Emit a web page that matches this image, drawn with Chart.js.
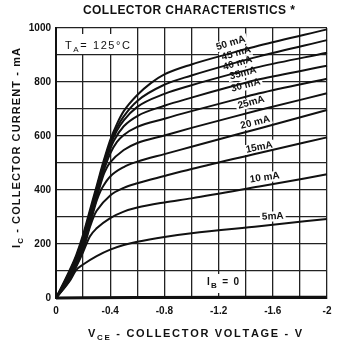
<!DOCTYPE html>
<html><head><meta charset="utf-8">
<script src="https://cdn.jsdelivr.net/npm/chart.js@4"></script>
<style>html,body{margin:0;padding:0;background:#fff;}#wrap{width:339px;height:346px;position:relative}</style>
</head><body><div id="wrap"><canvas id="c" width="339" height="346"></canvas></div>
<script>
// Collector voltage V_CE (V) vs collector current I_C (mA), one array per base current
const ib0  = [[0,0],[-0.6,2],[-2,3]];
const ib5  = [[0,0],[-0.05,30],[-0.1,62],[-0.15,104],[-0.2,124],[-0.3,155],[-0.4,179],[-0.5,196],[-0.6,208],[-0.8,226],[-1.0,240],[-1.5,266],[-2,293]];
const ib10 = [[0,0],[-0.05,32],[-0.1,66],[-0.15,116],[-0.2,170],[-0.25,228],[-0.3,258],[-0.4,296],[-0.5,320],[-0.6,335],[-0.8,354],[-1.0,369],[-1.5,413],[-2,458]];
const ib15 = [[0,0],[-0.05,34],[-0.1,71],[-0.15,122],[-0.2,178],[-0.25,262],[-0.28,303],[-0.3,323],[-0.4,380],[-0.5,408],[-0.6,425],[-0.8,452],[-1.0,478],[-1.5,537],[-2,595]];
const ib20 = [[0,0],[-0.05,36],[-0.1,75],[-0.15,127],[-0.2,186],[-0.25,272],[-0.3,360],[-0.33,398],[-0.35,416],[-0.4,450],[-0.5,485],[-0.6,505],[-0.8,533],[-1.0,560],[-1.5,628],[-2,696]];
const ib25 = [[0,0],[-0.05,38],[-0.1,80],[-0.15,132],[-0.2,194],[-0.25,281],[-0.3,370],[-0.35,455],[-0.37,478],[-0.4,502],[-0.5,548],[-0.6,574],[-0.8,602],[-1.0,630],[-1.3,670],[-1.5,696],[-2,758]];
const ib30 = [[0,0],[-0.05,41],[-0.1,84],[-0.15,138],[-0.2,202],[-0.25,290],[-0.3,380],[-0.35,468],[-0.4,535],[-0.45,578],[-0.5,604],[-0.6,634],[-0.8,664],[-1.0,692],[-1.3,732],[-1.5,758],[-2,812]];
const ib35 = [[0,0],[-0.05,43],[-0.1,88],[-0.15,143],[-0.2,210],[-0.25,299],[-0.3,390],[-0.35,480],[-0.4,552],[-0.43,585],[-0.5,636],[-0.6,674],[-0.8,712],[-1.0,742],[-1.3,784],[-1.5,810],[-2,860]];
const ib40 = [[0,0],[-0.05,45],[-0.1,93],[-0.15,149],[-0.2,218],[-0.25,308],[-0.3,398],[-0.35,490],[-0.4,565],[-0.45,620],[-0.5,658],[-0.6,708],[-0.8,756],[-1.0,788],[-1.3,830],[-1.5,856],[-2,908]];
const ib45 = [[0,0],[-0.05,47],[-0.1,97],[-0.15,154],[-0.2,226],[-0.25,317],[-0.3,406],[-0.35,498],[-0.4,575],[-0.45,632],[-0.5,673],[-0.6,730],[-0.8,790],[-1.0,824],[-1.3,868],[-1.5,895],[-2,955]];
const ib50 = [[0,0],[-0.05,50],[-0.1,102],[-0.15,160],[-0.2,235],[-0.25,325],[-0.3,415],[-0.35,505],[-0.4,585],[-0.45,645],[-0.5,692],[-0.6,752],[-0.7,796],[-0.8,828],[-1.0,865],[-1.3,908],[-1.5,935],[-2,995]];

const seriesNames = ['IB = 0','5 mA','10 mA','15 mA','20 mA','25 mA','30 mA','35 mA','40 mA','45 mA','50 mA'];
const seriesData  = [ib0, ib5, ib10, ib15, ib20, ib25, ib30, ib35, ib40, ib45, ib50];

// curve label anchors (V, mA) and text
const curveLabelText = ['5mA','10 mA','15mA','20 mA','25mA','30 mA','35mA','40 mA','45 mA','50 mA'];
const curveLabelV    = [-1.60,-1.54,-1.50,-1.47,-1.44,-1.40,-1.38,-1.34,-1.33,-1.29];
const curveLabelI    = [302, 446, 558, 650, 724, 788, 832, 869, 906, 944];
const curveLabelRot  = [-3, -8, -11, -14, -15, -15, -15, -16, -16, -17];

const xTickValues = [0,-0.4,-0.8,-1.2,-1.6,-2];
const yTickValues = [0,200,400,600,800,1000];

const INK = '#111';
const LBL_FONT = 'bold 10px "Liberation Sans Narrow", "Liberation Sans", sans-serif';

function drawRich(ctx, segs, x, y, o) {
  const chars = [];
  segs.forEach(s => { for (const ch of s.t) chars.push({ch, sub: !!s.sub}); });
  const ws = chars.map(c => { ctx.font = c.sub ? o.sub : o.font; return ctx.measureText(c.ch).width; });
  const nat = ws.reduce((a,b)=>a+b,0);
  const extra = o.width ? (o.width - nat) / (chars.length - 1) : 0;
  const total = nat + extra * (chars.length - 1);
  let cx = o.align === 'left' ? x : x - total / 2;
  ctx.textBaseline = 'middle';
  ctx.textAlign = 'left';
  chars.forEach((c,i) => {
    ctx.font = c.sub ? o.sub : o.font;
    ctx.fillText(c.ch, cx, c.sub ? y + (o.subDy || 3) : y);
    cx += ws[i] + extra;
  });
  return total;
}

const decor = {
  id: 'decor',
  beforeDatasetsDraw(chart) {
    const ctx = chart.ctx, xs = chart.scales.x, ys = chart.scales.y;
    ctx.save();
    ctx.fillStyle = '#fff';
    ctx.fillRect(58, 34, 78, 20);
    ctx.fillRect(202, 274, 42, 19);
    ctx.font = LBL_FONT;
    curveLabelText.forEach((t,i) => {
      const px = xs.getPixelForValue(curveLabelV[i]), py = ys.getPixelForValue(curveLabelI[i]);
      const w = ctx.measureText(t).width + 4;
      ctx.save(); ctx.translate(px, py); ctx.rotate(curveLabelRot[i]*Math.PI/180);
      ctx.fillRect(-w/2, -5, w, 10);
      ctx.restore();
    });
    ctx.restore();
  },
  afterDatasetsDraw(chart) {
    const ctx = chart.ctx, xs = chart.scales.x, ys = chart.scales.y;
    ctx.save();
    ctx.fillStyle = INK;
    ctx.font = LBL_FONT;
    ctx.textAlign = 'center'; ctx.textBaseline = 'middle';
    curveLabelText.forEach((t,i) => {
      const px = xs.getPixelForValue(curveLabelV[i]), py = ys.getPixelForValue(curveLabelI[i]);
      ctx.save(); ctx.translate(px, py); ctx.rotate(curveLabelRot[i]*Math.PI/180);
      ctx.fillText(t, 0, 0);
      ctx.restore();
    });
    drawRich(ctx, [{t:'T'},{t:'A',sub:true},{t:'= 125°C'}], 65, 46,
      {font:'11px "Liberation Sans", sans-serif', sub:'8px "Liberation Sans", sans-serif', align:'left', width:65, subDy:4});
    drawRich(ctx, [{t:'I'},{t:'B',sub:true},{t:' = 0'}], 207, 282,
      {font:'bold 10px "Liberation Sans", sans-serif', sub:'bold 8px "Liberation Sans", sans-serif', align:'left', width:32, subDy:4});
    ctx.restore();
  },
  afterDraw(chart) {
    const ctx = chart.ctx;
    ctx.save();
    ctx.fillStyle = INK;
    drawRich(ctx, [{t:'COLLECTOR CHARACTERISTICS *'}], 189, 11,
      {font:'bold 12px "Liberation Sans", sans-serif', width:212});
    drawRich(ctx, [{t:'V'},{t:'CE',sub:true},{t:' - COLLECTOR VOLTAGE - V'}], 195, 334,
      {font:'bold 11px "Liberation Sans", sans-serif', sub:'bold 8px "Liberation Sans", sans-serif', width:214, subDy:4});
    ctx.translate(17, 148); ctx.rotate(-Math.PI/2);
    drawRich(ctx, [{t:'I'},{t:'C',sub:true},{t:' - COLLECTOR CURRENT - mA'}], 0, 0,
      {font:'bold 11px "Liberation Sans", sans-serif', sub:'bold 8px "Liberation Sans", sans-serif', width:200, subDy:4});
    ctx.restore();
  }
};

const datasets = seriesData.map((d,i) => ({
  label: seriesNames[i],
  data: d.map(p => ({x:p[0], y:p[1]})),
  borderColor: INK,
  borderWidth: i === 0 ? 3 : 2,
  pointRadius: 0,
  fill: false,
  cubicInterpolationMode: 'monotone',
  clip: 2
}));

new Chart(document.getElementById('c'), {
  type: 'line',
  data: { datasets },
  options: {
    responsive: false,
    animation: false,
    events: [],
    layout: { padding: { top: 28, right: 12, left: 0, bottom: 0 } },
    plugins: { legend: { display: false }, tooltip: { enabled: false } },
    scales: {
      x: {
        type: 'linear', min: -2, max: 0, reverse: true,
        afterFit: s => { s.height = 48; },
        grid: { color: '#222', lineWidth: 1.3, drawTicks: false },
        border: { color: INK, width: 2 },
        ticks: {
          stepSize: 0.2, padding: 7, color: INK, maxRotation: 0, autoSkip: false,
          font: { family: '"Liberation Sans", sans-serif', size: 10, weight: 'bold' },
          callback: v => {
            const hit = xTickValues.find(t => Math.abs(t - v) < 1e-6);
            if (hit === undefined) return '';
            return hit === 0 ? '0' : (Number.isInteger(hit) ? String(hit) : hit.toFixed(1));
          }
        }
      },
      y: {
        type: 'linear', min: 0, max: 1000,
        afterFit: s => { s.width = 56; },
        grid: { color: '#222', lineWidth: 1.3, drawTicks: false },
        border: { color: INK, width: 2 },
        ticks: {
          stepSize: 100, padding: 5, color: INK, autoSkip: false,
          font: { family: '"Liberation Sans", sans-serif', size: 10, weight: 'bold' },
          callback: v => yTickValues.includes(v) ? String(v) : ''
        }
      }
    }
  },
  plugins: [decor]
});
</script></body></html>
